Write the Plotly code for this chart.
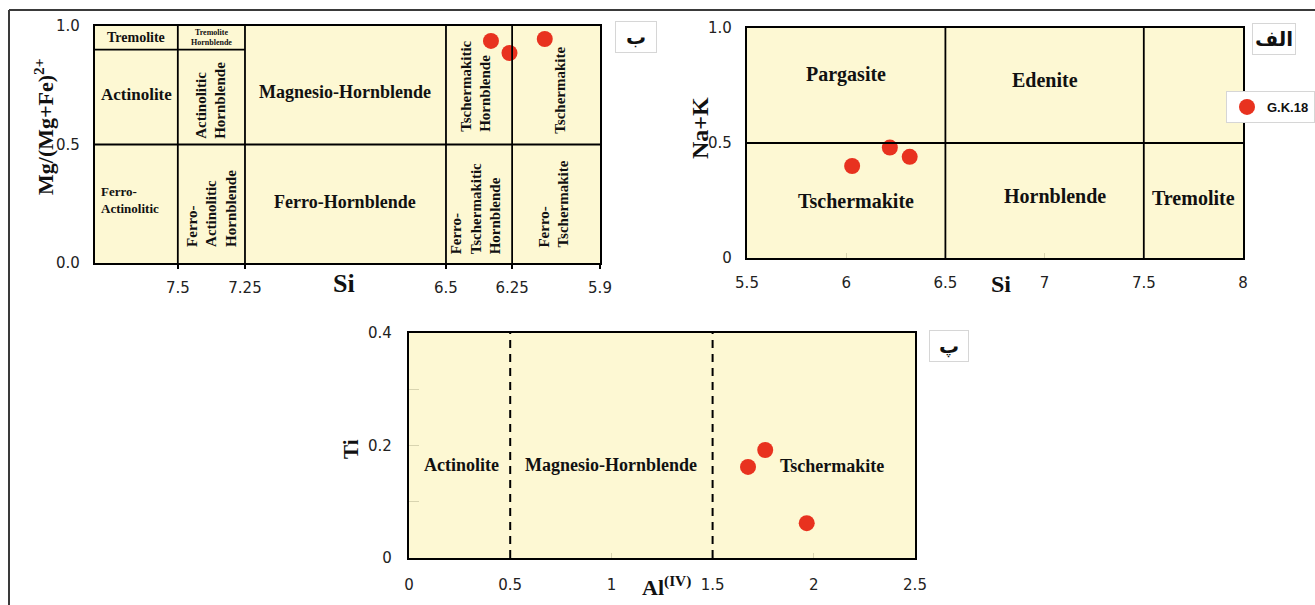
import numpy as np
import plotly.graph_objects as go

# ---------------- data ----------------
# Panel "ب": Si (apfu) vs Mg/(Mg+Fe2+)
si_mg = [6.33, 6.26, 6.12]
mg_number = [0.937, 0.886, 0.945]

# Panel "الف": Si vs Na+K
si_nak = [6.03, 6.22, 6.32]
na_k = [0.40, 0.48, 0.44]

# Panel "پ": Al(IV) vs Ti
al_iv = [1.675, 1.76, 1.965]
ti = [0.162, 0.192, 0.062]

sample_name = "G.K.18"

# Si boundaries of the Leake classification and their relative position on the
# (non-uniform) horizontal scale of panel "ب"
si_edges = [8.0, 7.5, 7.25, 6.5, 6.25, 5.9]
si_edge_pos = [0.0, 0.164, 0.297, 0.695, 0.826, 1.0]
si_tick_vals = [7.5, 7.25, 6.5, 6.25, 5.9]
si_tick_text = ["7.5", "7.25", "6.5", "6.25", "5.9"]

nak_x_ticks = [5.5, 6, 6.5, 7, 7.5, 8]
nak_x_text = ["5.5", "6", "6.5", "7", "7.5", "8"]
al_x_ticks = [0, 0.5, 1, 1.5, 2, 2.5]
al_x_text = ["0", "0.5", "1", "1.5", "2", "2.5"]


def si_pos(v):
    v = np.asarray(v, dtype=float)
    return np.interp(-v, -np.array(si_edges), si_edge_pos)


# ---------------- styling ----------------
W, H = 1315, 605
FILL = "#fdf8d3"
RED = "#e8321f"
SERIF = "Liberation Serif"
TICKFONT = dict(family="DejaVu Sans", size=15, color="#222")
LW = 1.8


def px_x(p):
    return p / W


def px_y(p):
    return 1 - p / H


fig = go.Figure()

# scatter points
fig.add_trace(go.Scatter(x=si_pos(si_mg), y=mg_number, mode="markers",
                         marker=dict(size=16, color=RED), xaxis="x", yaxis="y",
                         showlegend=False, hoverinfo="skip"))
fig.add_trace(go.Scatter(x=si_nak, y=na_k, mode="markers",
                         marker=dict(size=16, color=RED), xaxis="x2", yaxis="y2",
                         name="<b>" + sample_name + "</b>", showlegend=True))
fig.add_trace(go.Scatter(x=al_iv, y=ti, mode="markers",
                         marker=dict(size=16, color=RED), xaxis="x3", yaxis="y3",
                         showlegend=False, hoverinfo="skip"))

shapes = []


def seg(xref, yref, x0, y0, x1, y1, dash="solid"):
    shapes.append(dict(type="line", xref=xref, yref=yref, x0=x0, y0=y0, x1=x1, y1=y1,
                       line=dict(color="black", width=LW if dash == "solid" else 2,
                                 dash=dash), layer="above"))


# panel ب field boundaries
for s in [7.5, 7.25, 6.5, 6.25]:
    p = float(si_pos(s))
    seg("x", "y", p, 0, p, 1)
seg("x", "y", 0, 0.5, 1, 0.5)
seg("x", "y", 0, 0.9, float(si_pos(7.25)), 0.9)

# panel الف field boundaries
seg("x2", "y2", 6.5, 0, 6.5, 1)
seg("x2", "y2", 7.5, 0, 7.5, 1)
seg("x2", "y2", 5.5, 0.5, 8, 0.5)

# panel پ field boundaries
seg("x3", "y3", 0.5, 0, 0.5, 0.4, dash="8px,6px")
seg("x3", "y3", 1.5, 0, 1.5, 0.4, dash="8px,6px")

# outer frame (top and left edges)
shapes.append(dict(type="line", xref="paper", yref="paper", x0=px_x(9), y0=px_y(10),
                   x1=1, y1=px_y(10), line=dict(color="#3a3a3a", width=2)))
shapes.append(dict(type="line", xref="paper", yref="paper", x0=px_x(9), y0=px_y(10),
                   x1=px_x(9), y1=0, line=dict(color="#3a3a3a", width=2)))

annotations = []


def label(xref, yref, x, y, text, size, angle=0, align="center", xanchor="center"):
    annotations.append(dict(xref=xref, yref=yref, x=x, y=y, text="<b>" + text + "</b>",
                            showarrow=False, textangle=angle, align=align,
                            xanchor=xanchor, yanchor="middle",
                            font=dict(family=SERIF, size=size, color="#111")))


# panel ب field names (rotated ones are aligned on their lower end)
label("x", "y", float(si_pos(7.75)), 0.952, "Tremolite", 14)
label("x", "y", float(si_pos(7.375)), 0.952, "Tremolite<br>Hornblende", 8)
label("x", "y", float(si_pos(7.75)), 0.71, "Actinolite", 17)
label("x", "y", float(si_pos(7.375)), 0.686, "Actinolitic<br>Hornblende", 15,
      angle=-90, align="left")
label("x", "y", float(si_pos(6.875)), 0.722, "Magnesio-Hornblende", 18)
label("x", "y", float(si_pos(6.385)), 0.745, "Tschermakitic<br>Hornblende", 15,
      angle=-90, align="left")
label("x", "y", float(si_pos(6.06)), 0.73, "Tschermakite", 15, angle=-90)
label("x", "y", 0.008, 0.265, "Ferro-<br>Actinolitic", 13, align="left", xanchor="left")
label("x", "y", float(si_pos(7.375)), 0.23, "Ferro-<br>Actinolitic<br>Hornblende", 15,
      angle=-90, align="left")
label("x", "y", float(si_pos(6.875)), 0.257, "Ferro-Hornblende", 18)
label("x", "y", float(si_pos(6.385)), 0.228, "Ferro-<br>Tschermakitic<br>Hornblende", 15,
      angle=-90, align="left")
label("x", "y", float(si_pos(6.085)), 0.249, "Ferro-<br>Tschermakite", 15,
      angle=-90, align="left")

# panel الف field names
label("x2", "y2", 6.0, 0.80, "Pargasite", 20)
label("x2", "y2", 7.0, 0.775, "Edenite", 20)
label("x2", "y2", 6.05, 0.25, "Tschermakite", 20)
label("x2", "y2", 7.05, 0.27, "Hornblende", 20)
label("x2", "y2", 7.75, 0.26, "Tremolite", 20)

# panel پ field names
label("x3", "y3", 0.26, 0.165, "Actinolite", 18)
label("x3", "y3", 1.0, 0.165, "Magnesio-Hornblende", 18)
label("x3", "y3", 2.09, 0.163, "Tschermakite", 18)

# axis titles
label("paper", "paper", px_x(44), px_y(127), "Mg/(Mg+Fe)<sup>2+</sup>", 22, angle=-90)
label("paper", "paper", px_x(344), px_y(283), "Si", 26)
label("paper", "paper", px_x(700), px_y(128), "Na+K", 24, angle=-90)
label("paper", "paper", px_x(1001), px_y(284), "Si", 24)
label("paper", "paper", px_x(351), px_y(449), "Ti", 21, angle=-90)
label("paper", "paper", px_x(666), px_y(586), "Al<sup>(IV)</sup>", 22)


# panel tags (boxed letters), centred on the given page position
def tag(cx, cy, text, w, h):
    annotations.append(dict(xref="paper", yref="paper", x=px_x(cx), y=px_y(cy),
                            xanchor="center", yanchor="middle",
                            text="<b>" + text + "</b>", showarrow=False,
                            width=w, height=h, bgcolor="white",
                            bordercolor="#d6d6d6", borderwidth=1, borderpad=0,
                            font=dict(family="DejaVu Sans", size=20, color="#111")))


tag(636, 37, "ب", 40, 30)
tag(1274, 39, "الف", 42, 30)
tag(949, 346, "پ", 38, 30)

fig.update_layout(shapes=shapes, annotations=annotations)


def axis_common(**kw):
    base = dict(showline=True, linecolor="black", linewidth=2.2, mirror=True,
                showgrid=False, zeroline=False, tickfont=TICKFONT, fixedrange=True,
                automargin=False)
    base.update(kw)
    return base


fig.update_layout(
    width=W, height=H,
    # fixed page geometry: nothing may enlarge the margins
    margin=dict(l=0, r=0, t=0, b=0, pad=0, autoexpand=False),
    paper_bgcolor="white", plot_bgcolor=FILL,
    xaxis=axis_common(domain=[px_x(95), px_x(600)], range=[0, 1], anchor="y",
                      tickmode="array", tickvals=list(si_pos(si_tick_vals)),
                      ticktext=si_tick_text, ticks="outside", ticklen=4,
                      tickcolor="black", tickwidth=LW, ticklabelstandoff=6),
    yaxis=axis_common(domain=[px_y(263), px_y(26)], range=[0, 1], anchor="x",
                      tickmode="array", tickvals=[0, 0.5, 1.0],
                      ticktext=["0.0", "0.5", "1.0"], ticks="", ticklabelstandoff=10),
    xaxis2=axis_common(domain=[px_x(747), px_x(1243)], range=[5.5, 8], anchor="y2",
                       tickmode="array", tickvals=nak_x_ticks, ticktext=nak_x_text,
                       ticks="inside", ticklen=5, tickcolor="#d8d4b0",
                       ticklabelstandoff=10),
    yaxis2=axis_common(domain=[px_y(258), px_y(28)], range=[0, 1], anchor="x2",
                       tickmode="array", tickvals=[0, 0.5, 1.0],
                       ticktext=["0", "0.5", "1.0"], ticks="", ticklabelstandoff=10),
    xaxis3=axis_common(domain=[px_x(409), px_x(915)], range=[0, 2.5], anchor="y3",
                       tickmode="array", tickvals=al_x_ticks, ticktext=al_x_text,
                       ticks="inside", ticklen=5, tickcolor="#d8d4b0",
                       ticklabelstandoff=12),
    yaxis3=axis_common(domain=[px_y(558), px_y(333)], range=[0, 0.4], anchor="x3",
                       tickmode="array", tickvals=[0, 0.2, 0.4],
                       ticktext=["0", "0.2", "0.4"], ticks="inside",
                       ticklen=10, tickcolor="#d8d4b0", ticklabelstandoff=12,
                       minor=dict(tickvals=[0.1, 0.3], ticks="inside", ticklen=10,
                                  tickcolor="#d8d4b0")),
    legend=dict(x=1, xanchor="right", y=px_y(91), yanchor="top",
                bgcolor="white", bordercolor="#d6d6d6", borderwidth=1,
                font=dict(family="Liberation Sans", size=13, color="#111"),
                itemwidth=30, tracegroupgap=0),
)

fig.write_html("out.html")
